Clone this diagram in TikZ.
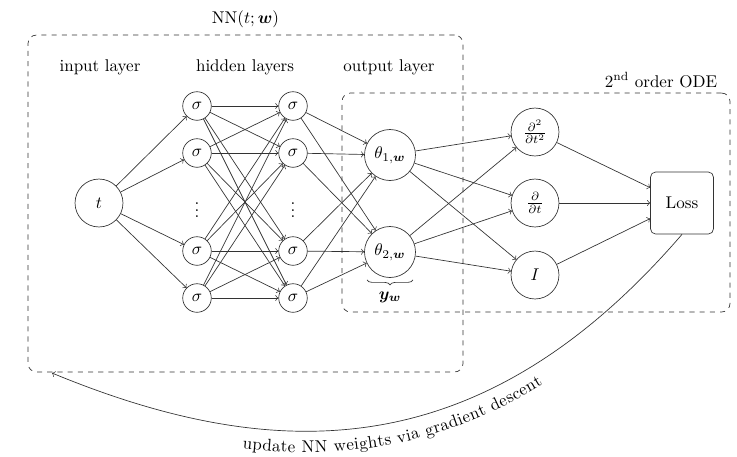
\documentclass[tikz,border=0pt]{standalone}
\usepackage{amsmath,bm}
\usetikzlibrary{decorations.text,decorations.pathreplacing,calc}
\begin{document}
\begin{tikzpicture}[x=0.5882pt,y=-0.5882pt,
  every path/.style={draw=black!80},
  sig/.style={circle,draw=black!80,inner sep=0pt,minimum size=16.8pt},
  big/.style={circle,draw=black!80,inner sep=0pt,minimum size=28.2pt},
  th/.style={circle,draw=black!80,inner sep=0pt,minimum size=30pt},
  dbox/.style={draw=black!80,dashed,rounded corners=5pt,inner sep=0pt},
  conn/.style={->,draw=black!80},
  lbl/.style={inner sep=0pt}]
\useasboundingbox[draw=none] (0,0) rectangle (737,456);

% dashed group boxes
\node[dbox,minimum width=435*0.5882pt,minimum height=337*0.5882pt] (nn) at (245.5,203.5) {};
\node[dbox,minimum width=388*0.5882pt,minimum height=219*0.5882pt] (ode) at (536,202.5) {};

% labels
\node[lbl] (title) at (245.5,19) {$\mathrm{NN}(t;\bm{w})$};
\node[lbl] (lin) at (100,67) {input layer};
\node[lbl] (lhid) at (245,67) {hidden layers};
\node[lbl] (lout) at (389,67) {output layer};
\node[lbl] (lode) at (661,80) {2\textsuperscript{nd} order ODE};

% network nodes
\node[big] (t) at (99,203) {$t$};
\foreach \i/\y in {1/106,2/153,3/251,4/298}{
  \node[sig] (a\i) at (197,\y) {$\sigma$};
  \node[sig] (b\i) at (293,\y) {$\sigma$};
}
\node[lbl] (da) at (197,205) {$\vdots$};
\node[lbl] (db) at (293,205) {$\vdots$};
\node[th] (th1) at (390,155) {$\theta_{1,\bm{w}}$};
\node[th] (th2) at (390,252) {$\theta_{2,\bm{w}}$};
\node[big] (d2) at (535,132) {$\frac{\partial^2}{\partial t^2}$};
\node[big] (d1) at (535,203) {$\frac{\partial}{\partial t}$};
\node[big] (id) at (535,275) {$I$};
\node[draw=black!80,rounded corners=3pt,minimum width=37pt,minimum height=36.5pt] (loss) at (682,203) {Loss};

% brace
\coordinate (brl) at ($(th2.south)+(-23,2)$);
\coordinate (brr) at ($(th2.south)+(23,2)$);
\draw[decorate,decoration={brace,mirror,amplitude=3pt}] (brl) -- (brr);
\node[lbl] (yw) at (390,297) {$\bm{y}_{\bm{w}}$};

% connectors
\foreach \i in {1,...,4}{\draw[conn] (t) -- (a\i);}
\foreach \i in {1,...,4}{\foreach \j in {1,...,4}{\draw[conn] (a\i) -- (b\j);}}
\foreach \i in {1,...,4}{\foreach \j in {1,2}{\draw[conn] (b\i) -- (th\j);}}
\foreach \s in {th1,th2}{\foreach \o in {d2,d1,id}{\draw[conn] (\s) -- (\o);}}
\foreach \o in {d2,d1,id}{\draw[conn] (\o) -- (loss);}

% feedback arc
\coordinate (arcend) at (52,373);
\draw[conn] (loss.south) .. controls (485,463) and (282,468) .. (arcend);
\path[draw=none,decorate,decoration={text along path,text align=center,raise=-12.5pt,
  text={update NN weights via gradient descent}}]
  (arcend) .. controls (282,468) and (485,463) .. (loss.south);
\end{tikzpicture}
\end{document}
